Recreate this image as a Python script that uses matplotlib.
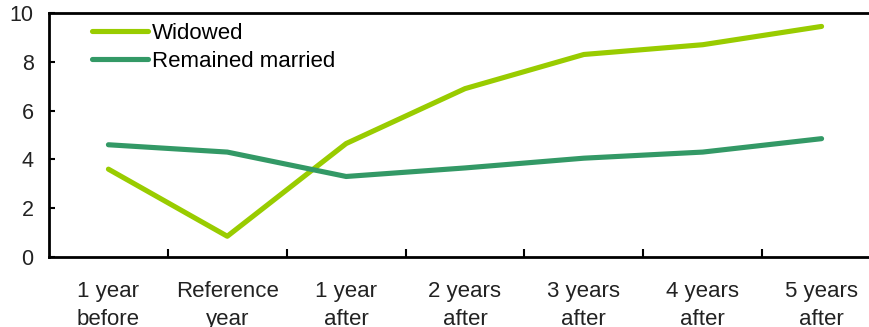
import matplotlib.pyplot as plt

categories = ["1 year\nbefore", "Reference\nyear", "1 year\nafter", "2 years\nafter",
              "3 years\nafter", "4 years\nafter", "5 years\nafter"]
widowed = [3.6, 0.85, 4.65, 6.9, 8.3, 8.7, 9.45]
remained_married = [4.6, 4.3, 3.3, 3.65, 4.05, 4.3, 4.85]

plt.rcParams['font.family'] = ['Liberation Sans', 'DejaVu Sans']

fig = plt.figure(figsize=(8.7, 3.27), dpi=100)
ax = fig.add_axes([49 / 870, 1 - 257 / 327, 832 / 870, 244 / 327])

x = list(range(len(categories)))
ax.plot(x, widowed, color='#99cc00', lw=3.7, label='Widowed', solid_capstyle='round')
ax.plot(x, remained_married, color='#339966', lw=3.7, label='Remained married', solid_capstyle='round')

ax.set_xlim(-0.5, 6.5)
ax.set_ylim(0, 10)
ax.set_yticks([0, 2, 4, 6, 8, 10])
ax.set_xticks([i + 0.5 for i in range(6)])
ax.set_xticklabels([])
ax.set_xticks(x, minor=True)
ax.set_xticklabels(categories, minor=True, linespacing=1.45)
ax.tick_params(axis='x', which='minor', length=0, pad=17, labelsize=16, colors='#222222')
ax.tick_params(axis='x', which='major', direction='in', length=6, width=1.5)
ax.tick_params(axis='y', direction='in', length=4, width=1.5, pad=11, labelsize=15.5,
               colors='black', labelcolor='#222222')

for s in ['left', 'bottom', 'top']:
    ax.spines[s].set_linewidth(2)
ax.spines['right'].set_visible(False)

ax.legend(loc='upper left', bbox_to_anchor=(0.028, 1.04), frameon=False, fontsize=16,
          handlelength=2.5, handletextpad=0.2, labelspacing=0.3)

fig.savefig('out.png', dpi=100)
